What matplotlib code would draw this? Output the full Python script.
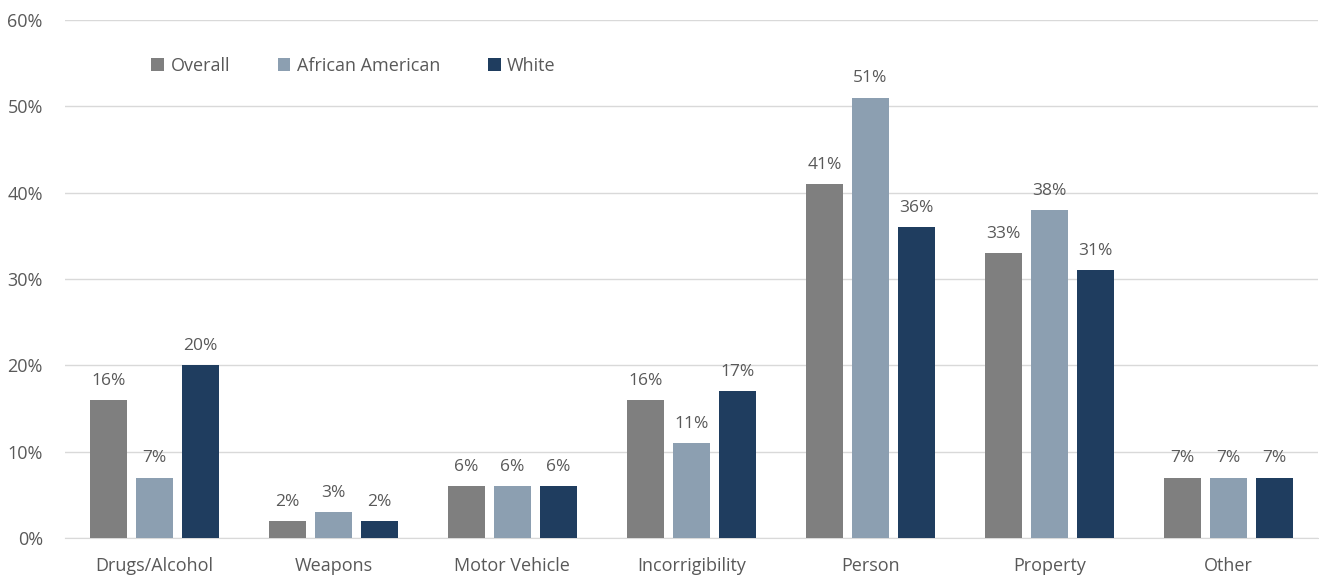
import numpy as np
from matplotlib import pyplot as plt

categories = ['Drugs/Alcohol', 'Weapons', 'Motor Vehicle', 'Incorrigibility',
              'Person', 'Property', 'Other']
overall = [16, 2, 6, 16, 41, 33, 7]
african_american = [7, 3, 6, 11, 51, 38, 7]
white = [20, 2, 6, 17, 36, 31, 7]
series_names = ['Overall', 'African American', 'White']

colors = ['#7f7f7f', '#8c9fb1', '#1f3d5f']
text_color = '#595959'

plt.rcParams['font.family'] = ['Open Sans', 'DejaVu Sans']

fig = plt.figure(figsize=(13.19, 5.85), dpi=100)
ax = fig.add_axes([0.0493, 0.0803, 0.9497, 0.8855])

x = np.arange(len(categories))
width = 0.207
offset = 0.257
for i, (vals, name) in enumerate(zip([overall, african_american, white], series_names)):
    pos = x + (i - 1) * offset
    bars = ax.bar(pos, vals, width, color=colors[i], label=name, zorder=3)
    for b, v in zip(bars, vals):
        ax.text(b.get_x() + b.get_width() / 2, v + 1.3, '{}%'.format(v),
                ha='center', va='bottom', fontsize=12.5, color=text_color)

ax.set_xlim(-0.5, len(categories) - 0.5)
ax.set_ylim(0, 60)
ax.set_yticks(range(0, 61, 10))
ax.set_yticklabels(['{}%'.format(t) for t in range(0, 61, 10)])
ax.set_xticks(x)
ax.set_xticklabels(categories)
ax.tick_params(axis='both', length=0, labelsize=13, colors=text_color)
ax.tick_params(axis='y', pad=16)
ax.tick_params(axis='x', pad=14)
ax.grid(axis='y', color='#d9d9d9', linewidth=1, zorder=0)
for s in ['top', 'right', 'left']:
    ax.spines[s].set_visible(False)
ax.spines['bottom'].set_color('#d9d9d9')

leg = ax.legend(loc='upper left', bbox_to_anchor=(0.056, 0.96), ncol=3, frameon=False,
                fontsize=13, handlelength=0.7, handleheight=0.7, handletextpad=0.35,
                columnspacing=2.65)
for t in leg.get_texts():
    t.set_color(text_color)

fig.savefig('out.png', dpi=100)
